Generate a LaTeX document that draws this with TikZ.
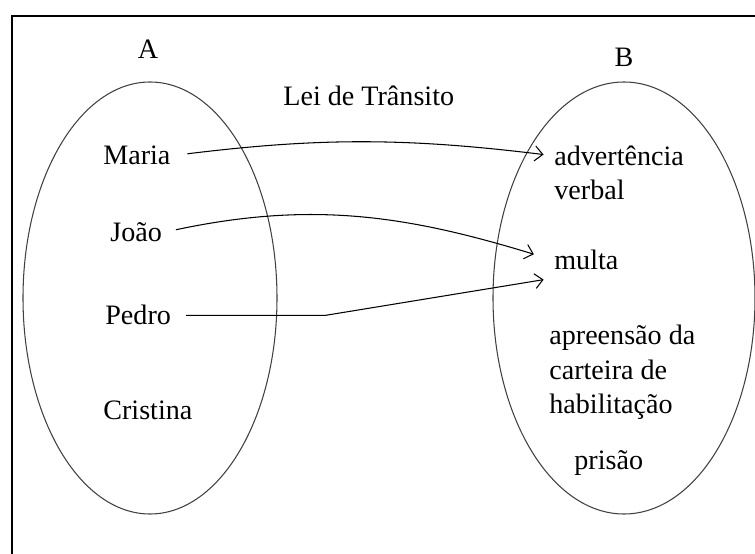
\documentclass[tikz,border=0pt]{standalone}
\usepackage{fontspec}
\setmainfont{Liberation Serif}
\usetikzlibrary{arrows.meta}
\begin{document}
\begin{tikzpicture}[x=0.02cm, y=-0.02cm,
  lbl/.style={inner sep=0pt, font=\fontsize{16}{19.8}\selectfont},
  elem/.style={lbl, anchor=base west},
  link/.style={line width=0.6pt, -{Straight Barb[length=4.5pt, width=8.5pt]}}]
  \useasboundingbox (0,0) rectangle (755,554);
  \draw[line width=1.4pt] (12,554) -- (12,16) -- (755,16);

  \draw[black!75, line width=0.6pt] (150,298) ellipse [x radius=127, y radius=216];
  \draw[black!75, line width=0.6pt] (624,298) ellipse [x radius=131, y radius=216];

  \node[lbl, anchor=base] (labelA) at (148,59) {A};
  \node[lbl, anchor=base] (labelB) at (624,67) {B};
  \node[elem] (law) at (283,106) {Lei de Trânsito};

  \node[elem] (maria) at (103,165) {Maria};
  \node[elem] (joao) at (110,242) {João};
  \node[elem] (pedro) at (105,325) {Pedro};
  \node[elem] (cristina) at (103,419) {Cristina};

  \node[elem, align=left] (adv) at (554,200) {advertência\\verbal};
  \node[elem] (multa) at (554,270) {multa};
  \node[elem, align=left] (apreensao) at (549,414) {apreensão da\\carteira de\\habilitação};
  \node[elem] (prisao) at (574,469) {prisão};

  \draw[link, shorten <=9.5pt, shorten >=6pt] (maria.east) to[out=7, in=173] (adv.west |- maria.east);
  \draw[link, shorten <=8pt, shorten >=12pt] (joao.east) to[out=12, in=163] (multa.west);
  \draw[link, shorten <=8.5pt, shorten >=6pt] (pedro.east) -- ++(154,0) -- ([yshift=-10pt]multa.west);
\end{tikzpicture}
\end{document}
